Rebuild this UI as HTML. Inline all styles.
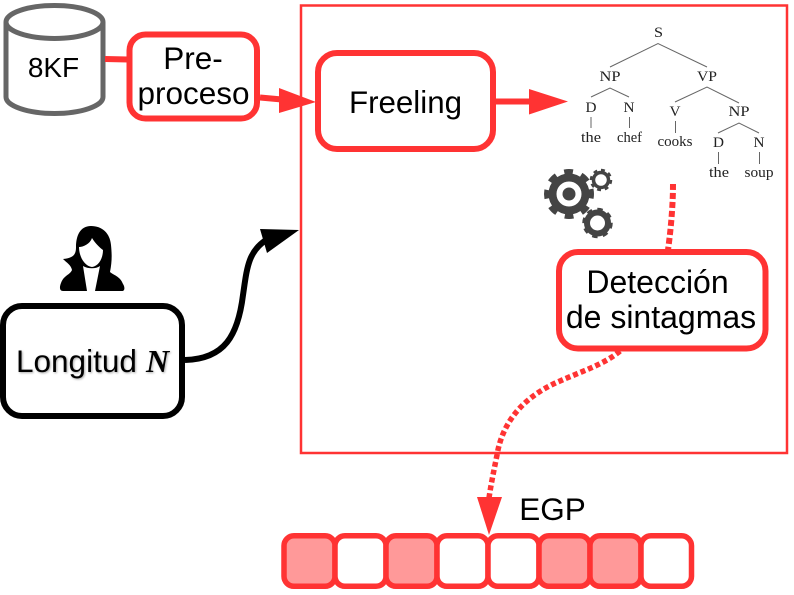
<!DOCTYPE html>
<html>
<head>
<meta charset="utf-8">
<style>
html,body{margin:0;padding:0;background:#fff;width:794px;height:595px;overflow:hidden}
svg{display:block}
.s{font-family:"Liberation Sans",sans-serif;fill:#000;text-anchor:middle}
.t{font-family:"Liberation Serif",serif;font-size:15px;fill:#222;text-anchor:middle}
</style>
</head>
<body>
<svg width="794" height="595" viewBox="0 0 794 595" xmlns="http://www.w3.org/2000/svg">
<rect width="794" height="595" fill="#fff"/>

<!-- outer frame -->
<rect x="301" y="5.5" width="486" height="447.500" fill="none" stroke="#ff3333" stroke-width="2.500"/>

<!-- cylinder -->
<path d="M6 22 V97 C6 106 28 113.500 54.500 113.500 C81 113.500 103 106 103 97 V22" fill="#fff" stroke="#666" stroke-width="5"/>
<ellipse cx="54.500" cy="22" rx="48.500" ry="16.500" fill="#fff" stroke="#666" stroke-width="5"/>
<text class="s" x="53.500" y="77" font-size="28">8KF</text>

<!-- 8KF to Pre -->
<line x1="105" y1="59" x2="128" y2="59.500" stroke="#ff3333" stroke-width="6"/>

<!-- Pre-proceso -->
<rect x="129.500" y="34.500" width="127.500" height="84" rx="16" ry="16" fill="#fff" stroke="#ff3333" stroke-width="6"/>
<text class="s" x="193" y="69" font-size="31.500">Pre-</text>
<text class="s" x="193.500" y="104" font-size="31.500">proceso</text>

<!-- Pre to Freeling -->
<line x1="260" y1="97.500" x2="282" y2="99.500" stroke="#ff3333" stroke-width="6"/>
<polygon points="279,88 316,102 279,113" fill="#ff3333"/>

<!-- Freeling -->
<rect x="318" y="53" width="175" height="96" rx="19" ry="19" fill="#fff" stroke="#ff3333" stroke-width="6"/>
<text class="s" x="405.500" y="113" font-size="31.300">Freeling</text>

<!-- Freeling arrow -->
<line x1="495" y1="101.500" x2="532" y2="101.500" stroke="#ff3333" stroke-width="6"/>
<polygon points="529,89 568,101.500 529,114.500" fill="#ff3333"/>

<!-- parse tree -->
<g stroke="#666" stroke-width="1" fill="none">
<path d="M610 67 L658 43.500 L707 67"/>
<path d="M591 97 L610 88 L629 97"/>
<path d="M675 102 L707 87 L739 103"/>
<path d="M718 133 L739 123 L759 133"/>
<path d="M591 117 V128 M629.500 117 V128 M675.500 121 V133 M718.500 152 V164 M759.500 152 V164"/>
</g>
<g>
<text class="t" x="658.500" y="37" textLength="9" lengthAdjust="spacingAndGlyphs">S</text>
<text class="t" x="610" y="81" textLength="21" lengthAdjust="spacingAndGlyphs">NP</text>
<text class="t" x="707" y="81" textLength="20" lengthAdjust="spacingAndGlyphs">VP</text>
<text class="t" x="591" y="112" textLength="11" lengthAdjust="spacingAndGlyphs">D</text>
<text class="t" x="629" y="112" textLength="11" lengthAdjust="spacingAndGlyphs">N</text>
<text class="t" x="675" y="116" textLength="11" lengthAdjust="spacingAndGlyphs">V</text>
<text class="t" x="739" y="116" textLength="21" lengthAdjust="spacingAndGlyphs">NP</text>
<text class="t" x="591" y="142" textLength="20" lengthAdjust="spacingAndGlyphs">the</text>
<text class="t" x="629.500" y="142" textLength="25" lengthAdjust="spacingAndGlyphs">chef</text>
<text class="t" x="675" y="146" textLength="35" lengthAdjust="spacingAndGlyphs">cooks</text>
<text class="t" x="718.500" y="147" textLength="11" lengthAdjust="spacingAndGlyphs">D</text>
<text class="t" x="759" y="147" textLength="11" lengthAdjust="spacingAndGlyphs">N</text>
<text class="t" x="719" y="177" textLength="20" lengthAdjust="spacingAndGlyphs">the</text>
<text class="t" x="759" y="177" textLength="29" lengthAdjust="spacingAndGlyphs">soup</text>
</g>

<!-- gears -->
<g fill="none" stroke="#444">
<circle cx="569" cy="194" r="22.500" stroke-width="5" stroke-dasharray="1 1" pathLength="16" transform="rotate(-11 569 194)"/>
<circle cx="569" cy="194" r="16.500" stroke-width="8"/>
<circle cx="601" cy="180" r="10" stroke-width="2.500" stroke-dasharray="1 1" pathLength="16"/>
<circle cx="601" cy="180" r="7.500" stroke-width="3.500"/>
<circle cx="597.500" cy="223" r="13.500" stroke-width="3.500" stroke-dasharray="1 1" pathLength="16"/>
<circle cx="597.500" cy="223" r="10.500" stroke-width="6"/>
</g>
<circle cx="569" cy="194" r="6.500" fill="#444"/>

<!-- dotted upper -->
<path d="M673 184 C673 205 671 228 668 250" fill="none" stroke="#ff3333" stroke-width="6" stroke-dasharray="6 3"/>

<!-- Detección -->
<rect x="559" y="252" width="206.500" height="96.500" rx="19" ry="19" fill="#fff" stroke="#ff3333" stroke-width="6"/>
<text class="s" x="657.500" y="293" font-size="32">Detección</text>
<text class="s" x="661" y="328" font-size="32">de sintagmas</text>

<!-- dotted lower -->
<path d="M620 351 C605 364 580 372 560 381 C520 398 502 425 497 455 C494 470 491 484 489 498" fill="none" stroke="#ff3333" stroke-width="5.500" stroke-dasharray="5 3"/>
<polygon points="477,497 502,497 489,535" fill="#ff3333"/>

<text class="s" x="552.500" y="520" font-size="31.500">EGP</text>

<!-- cells -->
<g stroke="#ff3333" stroke-width="5.500">
<rect x="284" y="535.800" width="51" height="50.500" rx="10" fill="#ff9999"/>
<rect x="335" y="535.800" width="51" height="50.500" rx="10" fill="#fff"/>
<rect x="386" y="535.800" width="51" height="50.500" rx="10" fill="#ff9999"/>
<rect x="437" y="535.800" width="51" height="50.500" rx="10" fill="#fff"/>
<rect x="488" y="535.800" width="51" height="50.500" rx="10" fill="#fff"/>
<rect x="539" y="535.800" width="51" height="50.500" rx="10" fill="#ff9999"/>
<rect x="590" y="535.800" width="51" height="50.500" rx="10" fill="#ff9999"/>
<rect x="641" y="535.800" width="50.500" height="50.500" rx="10" fill="#fff"/>
</g>

<!-- person -->
<path d="M91 226 C80 226 76 236 76 247 C76 254 74 258 63 259 C67 263 71 265 72 270 C70 275 64 275 61 283 C59 288 60 291 63 291 L122 291 C125 291 125 287 123 284 C120 276 113 275 110 272 C112 262 112 255 111 245 C110 233 102 226 91 226 Z" fill="#000"/>
<path d="M79 247 C83 247 90 244 92 238 C95 243 100 248 103 250 C103 258 99 266 92 267 C84 266 79 256 79 247 Z" fill="#fff"/>
<path d="M83 266 C88 269 96 269 100 266 L95 291 H87 Z" fill="#fff"/>

<!-- Longitud -->
<rect x="3" y="306" width="179" height="110" rx="19" ry="19" fill="#fff" stroke="#000" stroke-width="6"/>
<g style="filter:drop-shadow(1.500px 1.500px 1px #aaa)">
<text x="16" y="372" font-family="'Liberation Sans',sans-serif" font-size="31.500" fill="#000">Longitud</text>
<text x="146" y="372" font-family="'Liberation Serif',serif" font-size="32" font-style="italic" font-weight="bold" fill="#000">N</text>
</g>

<!-- black curve -->
<path d="M185 360 C225 359 238 335 243 295 C247 268 248 252 266 240" fill="none" stroke="#000" stroke-width="6"/>
<polygon points="260,229 299,230 267,253" fill="#000"/>
</svg>
</body>
</html>
